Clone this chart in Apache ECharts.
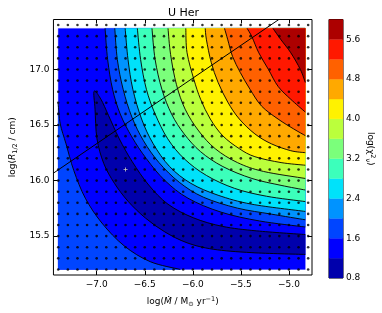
<!DOCTYPE html>
<html><head><meta charset="utf-8">
<script src="https://cdn.jsdelivr.net/npm/echarts@6/dist/echarts.min.js"></script>
<style>html,body{margin:0;padding:0;background:#fff}#c{width:382px;height:313px}</style>
</head><body><div id="c"></div>
<script>
// ---- data ----
const levels = [0.8,1.2,1.6,2.0,2.4,2.8,3.2,3.6,4.0,4.4,4.8,5.2,5.6,6.0];
const bandColors = ['#0000ac','#0000ff','#0045ff','#0093ff','#00e2fa','#3cffbb','#7bff7b','#bbff3c','#fff200','#ffa900','#ff6100','#ff1800','#ac0000'];
const cbTicks = [0.8,1.6,2.4,3.2,4.0,4.8,5.6];
const xTicks = [-7.0,-6.5,-6.0,-5.5,-5.0];
const yTicks = [15.5,16.0,16.5,17.0];
const gridX = [-7.4,-7.3,-7.2,-7.1,-7.0,-6.9,-6.8,-6.7,-6.6,-6.5,-6.4,-6.3,-6.2,-6.1,-6.0,-5.9,-5.8,-5.7,-5.6,-5.5,-5.4,-5.3,-5.2,-5.1,-5.0,-4.9,-4.8];
const gridY = [15.2,15.3,15.4,15.5,15.6,15.7,15.8,15.9,16.0,16.1,16.2,16.3,16.4,16.5,16.6,16.7,16.8,16.9,17.0,17.1,17.2,17.3,17.4];
const fillBox = [-7.4, 15.2, -4.83, 17.37];
// valley (level 1.2): from right edge (upper) round the tip back to right edge (lower)
const c12 = [[-4.83,15.514],[-5.334,15.547],[-5.687,15.587],[-5.989,15.663],[-6.258,15.787],[-6.459,15.96],[-6.631,16.171],[-6.765,16.376],[-6.876,16.584],[-6.956,16.732],[-7.027,16.804],[-7.017,16.643],[-6.997,16.376],[-6.926,16.153],[-6.815,15.975],[-6.674,15.814],[-6.493,15.663],[-6.291,15.538],[-6.06,15.44],[-5.788,15.382],[-5.385,15.351],[-4.83,15.335]];
// level 1.6, lower-left branch (left edge -> bottom edge)
const c16a = [[-7.4,16.688],[-7.379,16.51],[-7.319,16.331],[-7.238,16.09],[-7.118,15.841],[-6.946,15.618],[-6.715,15.413],[-6.443,15.27],[-6.13,15.2]];
// upper-right contours (top edge -> right edge)
const c16b = [[-6.913,17.37],[-6.886,17.089],[-6.835,16.822],[-6.755,16.599],[-6.634,16.393],[-6.483,16.197],[-6.291,16.001],[-6.05,15.841],[-5.707,15.716],[-5.304,15.636],[-4.83,15.582]];
const c20 = [[-6.812,17.37],[-6.785,17.089],[-6.725,16.822],[-6.634,16.572],[-6.513,16.358],[-6.352,16.162],[-6.14,15.984],[-5.889,15.85],[-5.536,15.752],[-5.183,15.698],[-4.83,15.647]];
const c24 = [[-6.704,17.37],[-6.674,17.089],[-6.624,16.822],[-6.533,16.554],[-6.412,16.331],[-6.241,16.126],[-6.02,15.975],[-5.737,15.868],[-5.385,15.787],[-4.83,15.722]];
const c28 = [[-6.577,17.37],[-6.543,17.089],[-6.483,16.822],[-6.392,16.599],[-6.261,16.376],[-6.09,16.197],[-5.858,16.046],[-5.566,15.93],[-5.233,15.859],[-4.83,15.811]];
const c32 = [[-6.425,17.37],[-6.392,17.089],[-6.322,16.822],[-6.221,16.599],[-6.09,16.42],[-5.919,16.26],[-5.687,16.126],[-5.385,16.019],[-5.082,15.957],[-4.83,15.915]];
const c36 = [[-6.258,17.37],[-6.231,17.134],[-6.171,16.866],[-6.08,16.643],[-5.939,16.447],[-5.767,16.287],[-5.536,16.162],[-5.264,16.082],[-4.83,16.019]];
const c40 = [[-6.073,17.37],[-6.06,17.151],[-5.989,16.911],[-5.919,16.732],[-5.818,16.554],[-5.687,16.402],[-5.516,16.287],[-5.354,16.215],[-5.082,16.162],[-4.83,16.138]];
const c44 = [[-5.871,17.37],[-5.858,17.267],[-5.808,17.062],[-5.737,16.884],[-5.636,16.706],[-5.516,16.554],[-5.354,16.42],[-5.183,16.331],[-4.981,16.269],[-4.83,16.251]];
const c48 = [[-5.67,17.37],[-5.636,17.267],[-5.586,17.116],[-5.506,16.973],[-5.405,16.822],[-5.284,16.67],[-5.113,16.554],[-4.951,16.465],[-4.83,16.405]];
const c52 = [[-5.435,17.37],[-5.385,17.294],[-5.314,17.151],[-5.213,17.0],[-5.113,16.848],[-4.981,16.732],[-4.83,16.617]];
const c56 = [[-5.166,17.37],[-5.082,17.267],[-4.981,17.151],[-4.881,17.0],[-4.83,16.884]];
const bestFit = [[-6.70, 16.10]];
const diagLine = [[-7.45, 16.067], [-5.105, 17.45]];

// ---- build ----
const upper = [c16b,c20,c24,c28,c32,c36,c40,c44,c48,c52,c56];
const regions = [
  {kind:'rect', band:1},
  {kind:'ll', pts:c16a, band:2},
  {kind:'closed', pts:c12, band:0}
].concat(upper.map((p,i)=>({kind:'corner', pts:p, band:i+2})));
const lines = [c12, c16a].concat(upper);

function smoothPath(px){
  let d = 'M' + px[0][0] + ' ' + px[0][1];
  for (let i=0;i<px.length-1;i++){
    const p0 = px[i-1]||px[i], p1=px[i], p2=px[i+1], p3=px[i+2]||px[i+1];
    const c1 = [p1[0]+(p2[0]-p0[0])/6, p1[1]+(p2[1]-p0[1])/6];
    const c2 = [p2[0]-(p3[0]-p1[0])/6, p2[1]-(p3[1]-p1[1])/6];
    d += ' C'+c1[0]+' '+c1[1]+' '+c2[0]+' '+c2[1]+' '+p2[0]+' '+p2[1];
  }
  return d;
}

const dots = [];
gridY.forEach(y=>gridX.forEach(x=>dots.push([x,y])));

function fmt(v){ const s = Math.abs(v).toFixed(1); return v<0 ? '\u2212'+s : s; }
const FONT = 'DejaVu Sans';
const lab = {fontSize:9, color:'#000', fontFamily:FONT};

const chart = echarts.init(document.getElementById('c'), null, {renderer:'canvas'});
chart.setOption({
  animation:false,
  backgroundColor:'#fff',
  title:{text:'U Her', left:178.5, top:3, textAlign:'center', textStyle:{fontSize:11, fontWeight:'normal', color:'#000', fontFamily:FONT}},
  grid:[
    {left:45, top:19.5, width:267, height:258, show:true, borderColor:'#000', borderWidth:1, backgroundColor:'#fff'},
    {left:329, top:19.5, width:14, height:258.5, show:true, borderColor:'#000', borderWidth:1}
  ],
  xAxis:[
    {gridIndex:0, type:'value', min:-7.45, max:-4.76, position:'bottom',
     axisLine:{show:false}, splitLine:{show:false},
     axisTick:{inside:true, length:4, customValues:xTicks, lineStyle:{color:'#000'}},
     axisLabel:Object.assign({customValues:xTicks, formatter:fmt, margin:5}, lab),
     name:'{n|log(}{i|M\u0307}{n| / M}{sub|\u2299}{n| yr}{sup|\u22121}{n|)}',
     nameLocation:'middle', nameGap:21,
     nameTextStyle:{fontSize:9, color:'#000', fontFamily:FONT, rich:{
       n:{fontSize:9, fontFamily:FONT, color:'#000', lineHeight:12},
       i:{fontSize:9, fontFamily:FONT, fontStyle:'italic', color:'#000', lineHeight:12},
       sub:{fontSize:6.5, fontFamily:FONT, color:'#000', verticalAlign:'bottom', lineHeight:8},
       sup:{fontSize:6.5, fontFamily:FONT, color:'#000', verticalAlign:'top', lineHeight:8}}}},
    {gridIndex:0, type:'value', min:-7.45, max:-4.76, position:'top',
     axisLine:{show:false}, splitLine:{show:false}, axisLabel:{show:false},
     axisTick:{inside:true, length:4, customValues:xTicks, lineStyle:{color:'#000'}}},
    {gridIndex:1, type:'value', min:0, max:1, show:false}
  ],
  yAxis:[
    {gridIndex:0, type:'value', min:15.15, max:17.45, position:'left',
     axisLine:{show:false}, splitLine:{show:false},
     axisTick:{inside:true, length:4, customValues:yTicks, lineStyle:{color:'#000'}},
     axisLabel:Object.assign({customValues:yTicks, formatter:fmt, margin:4}, lab),
     name:'{n|log(}{i|R}{sub|1/2}{n| / cm)}', nameLocation:'middle', nameGap:31, nameRotate:90,
     nameTextStyle:{fontSize:9, color:'#000', fontFamily:FONT, rich:{
       n:{fontSize:9, fontFamily:FONT, color:'#000', lineHeight:12},
       i:{fontSize:9, fontFamily:FONT, fontStyle:'italic', color:'#000', lineHeight:12},
       sub:{fontSize:6.5, fontFamily:FONT, color:'#000', verticalAlign:'bottom', lineHeight:8}}}},
    {gridIndex:0, type:'value', min:15.15, max:17.45, position:'right',
     axisLine:{show:false}, splitLine:{show:false}, axisLabel:{show:false},
     axisTick:{inside:true, length:4, customValues:yTicks, lineStyle:{color:'#000'}}},
    {gridIndex:1, type:'value', min:0.8, max:6.0, position:'right',
     axisLine:{show:false}, splitLine:{show:false},
     axisTick:{show:false},
     axisLabel:Object.assign({customValues:cbTicks, formatter:v=>v.toFixed(1), margin:3}, lab),
     name:'{n|log(\u03c7}{sup|2}{sub|\u03bd}{n|)}', nameLocation:'middle', nameGap:21, nameRotate:-90,
     nameTextStyle:{fontSize:9, color:'#000', fontFamily:FONT, rich:{
       n:{fontSize:9, fontFamily:FONT, color:'#000', lineHeight:12},
       sub:{fontSize:6.5, fontFamily:FONT, color:'#000', verticalAlign:'bottom', lineHeight:8},
       sup:{fontSize:6.5, fontFamily:FONT, color:'#000', verticalAlign:'top', lineHeight:8}}}}
  ],
  series:[
    {type:'custom', xAxisIndex:0, yAxisIndex:0, z:1, clip:true,
     data:regions.map((r,i)=>[fillBox[0], fillBox[1], i]), encode:{x:0,y:1},
     renderItem:function(params, api){
       const r = regions[params.dataIndex];
       const c = p=>api.coord(p);
       let d;
       if (r.kind==='rect'){
         const a=c([fillBox[0],fillBox[3]]), b=c([fillBox[2],fillBox[1]]);
         d = 'M'+a[0]+' '+a[1]+' L'+b[0]+' '+a[1]+' L'+b[0]+' '+b[1]+' L'+a[0]+' '+b[1]+' Z';
       } else if (r.kind==='ll'){
         const k=c([fillBox[0],fillBox[1]]);
         d = smoothPath(r.pts.map(c)) + ' L'+k[0]+' '+k[1]+' Z';
       } else if (r.kind==='closed'){
         d = smoothPath(r.pts.map(c)) + ' Z';
       } else {
         const k=c([fillBox[2],fillBox[3]]);
         d = smoothPath(r.pts.map(c)) + ' L'+k[0]+' '+k[1]+' Z';
       }
       return {type:'path', shape:{pathData:d}, style:{fill:bandColors[r.band], stroke:bandColors[r.band], lineWidth:0.3}};
     }},
    {type:'custom', xAxisIndex:0, yAxisIndex:0, z:2, clip:true,
     data:lines.map((l,i)=>[fillBox[0], fillBox[1], i]), encode:{x:0,y:1},
     renderItem:function(params, api){
       const d = smoothPath(lines[params.dataIndex].map(p=>api.coord(p)));
       return {type:'path', shape:{pathData:d}, style:{fill:null, stroke:'#000', lineWidth:0.9}};
     }},
    {type:'line', xAxisIndex:0, yAxisIndex:0, z:3, data:diagLine, symbol:'none', clip:true,
     lineStyle:{color:'#000', width:1}, silent:true},
    {type:'scatter', xAxisIndex:0, yAxisIndex:0, z:4, data:dots, symbol:'circle', symbolSize:2.6,
     itemStyle:{color:'#000'}, silent:true, clip:false},
    {type:'scatter', xAxisIndex:0, yAxisIndex:0, z:5, data:bestFit,
     symbol:'path://M1.6,0h0.8v1.6h1.6v0.8h-1.6v1.6h-0.8v-1.6h-1.6v-0.8h1.6z', symbolSize:4,
     itemStyle:{color:'#fff'}, silent:true},
    {type:'custom', xAxisIndex:2, yAxisIndex:2, z:1,
     data:bandColors.map((col,i)=>[0.5, levels[i], i]), encode:{x:0,y:1},
     renderItem:function(params, api){
       const i = params.dataIndex;
       const a = api.coord([0, levels[i+1]]), b = api.coord([1, levels[i]]);
       return {type:'rect', shape:{x:a[0], y:a[1], width:b[0]-a[0], height:b[1]-a[1]}, style:{fill:bandColors[i], stroke:bandColors[i], lineWidth:0.3}};
     }}
  ]
});
</script></body></html>
